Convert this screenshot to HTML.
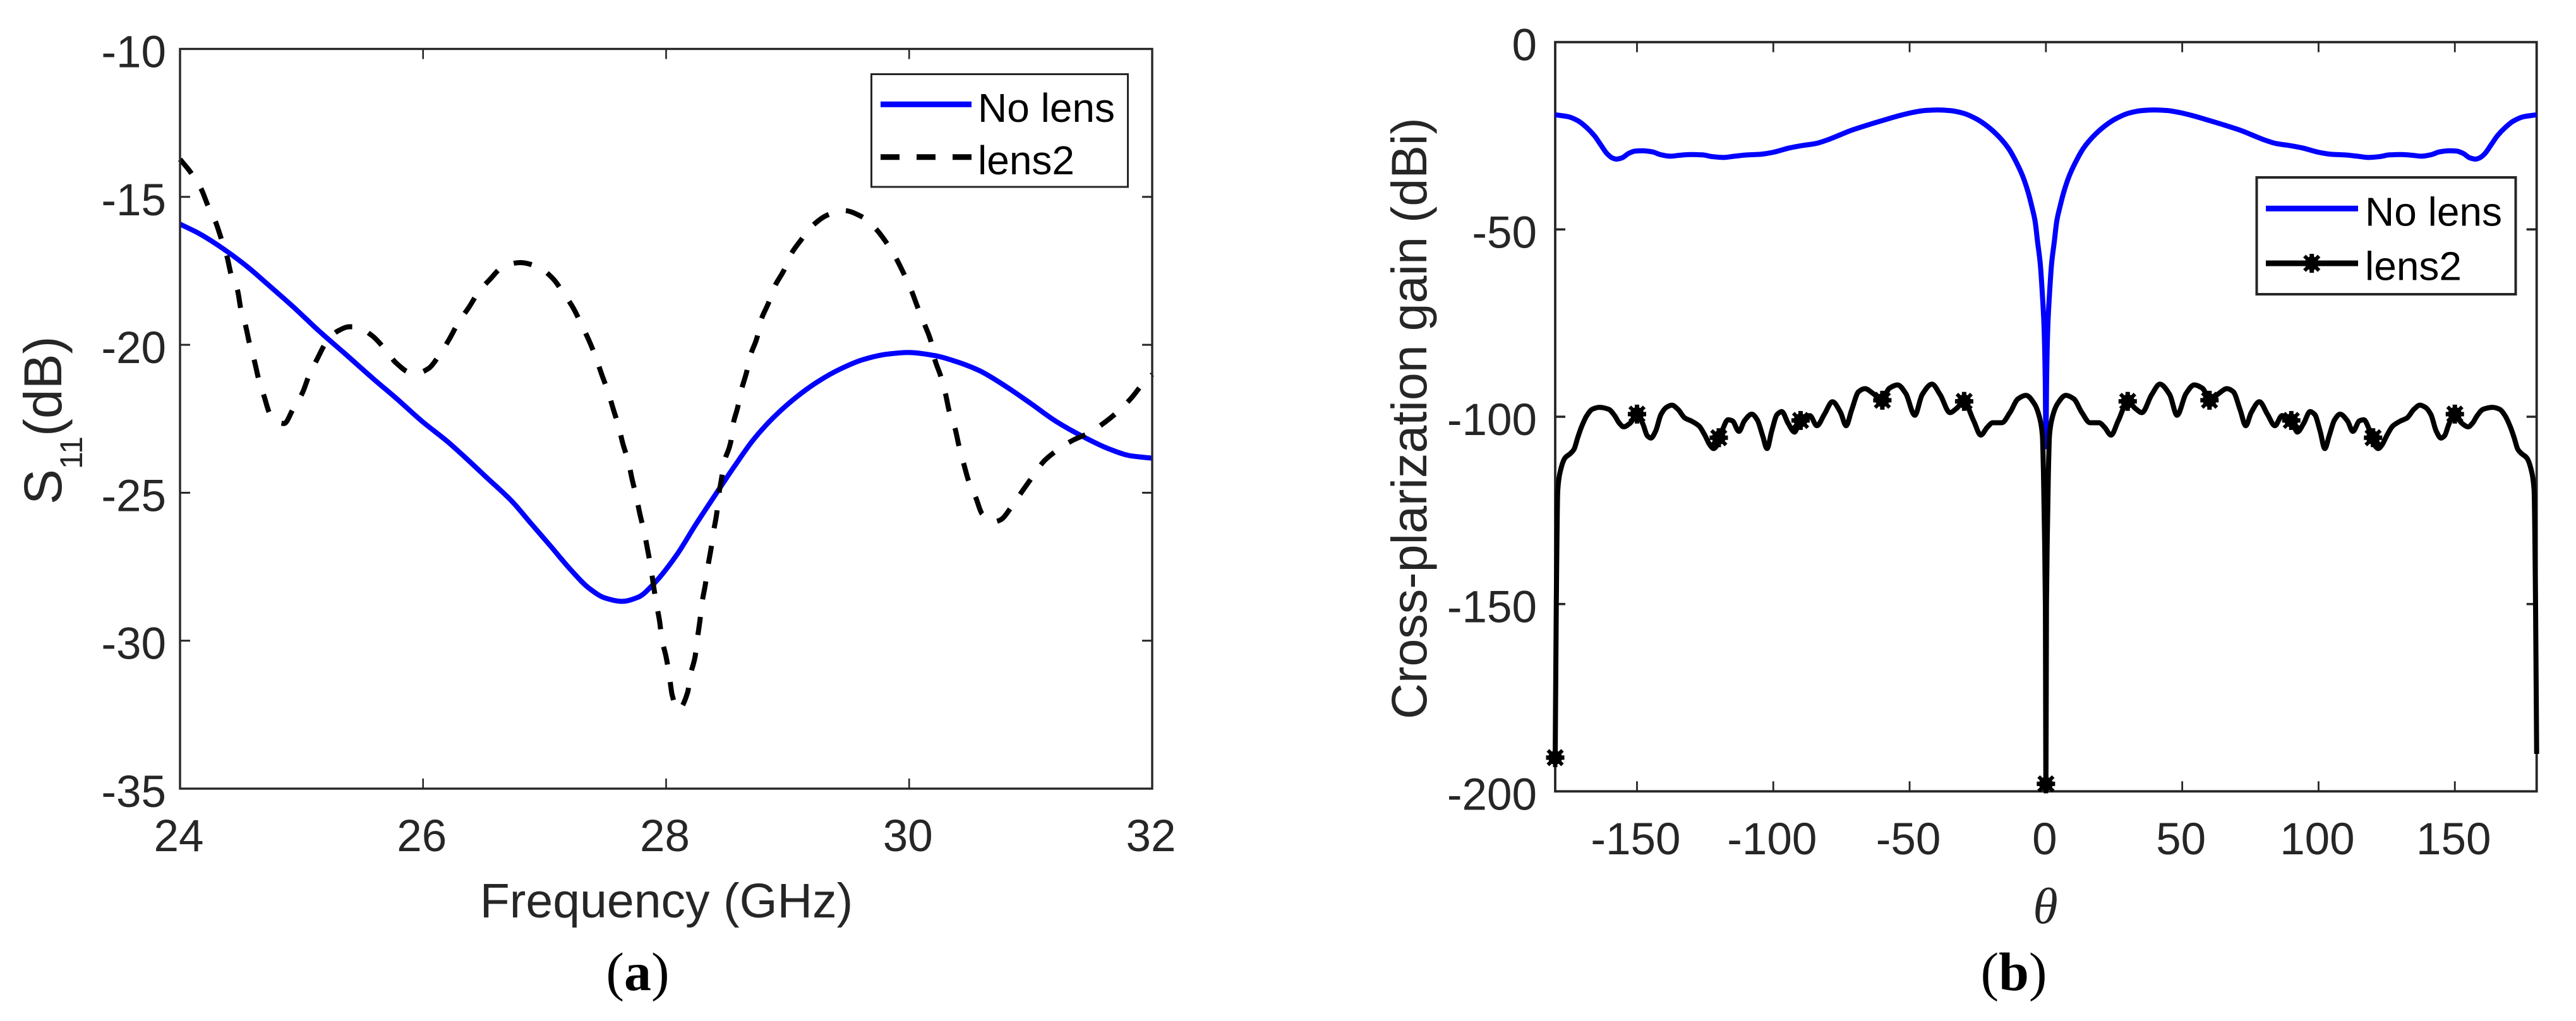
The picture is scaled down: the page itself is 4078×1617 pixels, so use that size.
<!DOCTYPE html>
<html lang="en">
<head>
<meta charset="utf-8">
<title>S11 and cross-polarization gain charts</title>
<style>
  html, body { margin: 0; padding: 0; background: #ffffff; }
  svg { display: block; }
  text { font-family: "Liberation Sans", Arial, sans-serif; }
  .serif { font-family: "Liberation Serif", "Times New Roman", serif; }
</style>
</head>
<body>
<svg id="figure" xmlns="http://www.w3.org/2000/svg" width="4078" height="1617" viewBox="0 0 4078 1617">
  <rect x="0" y="0" width="4078" height="1617" fill="#ffffff"/>

  <g id="chart-a"></g>
  <g id="chart-b"></g>

  <!-- Chart a labels -->
  <text transform="translate(97,799) rotate(-90)" font-size="84" fill="#262626">S<tspan font-size="50" dy="33">11</tspan><tspan dy="-33">(dB)</tspan></text>
  <text x="1055" y="1453" font-size="77" fill="#262626" text-anchor="middle">Frequency (GHz)</text>
  <text class="serif" x="1009.5" y="1568" font-size="86" fill="#000000" text-anchor="middle">(<tspan font-weight="bold">a</tspan>)</text>

  <!-- Chart a legend -->
  <g>
    <rect x="1379.5" y="117.5" width="406" height="178.5" fill="#ffffff" stroke="#262626" stroke-width="3"/>
    <line x1="1394" y1="165.3" x2="1538" y2="165.3" stroke="#0000ff" stroke-width="9"/>
    <text x="1548" y="193" font-size="64" fill="#000000">No lens</text>
    <line x1="1394" y1="248.7" x2="1538" y2="248.7" stroke="#000000" stroke-width="9" stroke-dasharray="30 27"/>
    <text x="1548" y="276" font-size="64" fill="#000000">lens2</text>
  </g>

  <!-- Chart b labels -->
  <text transform="translate(2258,1139) rotate(-90)" font-size="79" fill="#262626">Cross-plarization gain (dBi)</text>
  <text class="serif" x="3238" y="1462" font-size="80" font-style="italic" fill="#262626" text-anchor="middle">θ</text>
  <text class="serif" x="3188" y="1568" font-size="86" fill="#000000" text-anchor="middle">(<tspan font-weight="bold">b</tspan>)</text>

  <!-- Chart b legend -->
  <g>
    <rect x="3572.5" y="281" width="410" height="185" fill="#ffffff" stroke="#262626" stroke-width="4"/>
    <line x1="3587" y1="330.3" x2="3733" y2="330.3" stroke="#0000ff" stroke-width="9"/>
    <text x="3744" y="357.5" font-size="64" fill="#000000">No lens</text>
    <line x1="3587" y1="417" x2="3733" y2="417" stroke="#000000" stroke-width="9"/>
    <g id="legend-marker"></g>
    <text x="3744" y="443.5" font-size="64" fill="#000000">lens2</text>
  </g>
</svg>

<script>
// ---- Chart a data ----
const aXTicks = [24, 26, 28, 30, 32];
const aYTicks = [-10, -15, -20, -25, -30, -35];
const aNoLensFreq = [24,24.162,24.347,24.56,24.72,24.93,25.143,25.355,25.594,25.78,25.99,26.204,26.337,26.522,26.734,26.893,27.053,27.21,27.37,27.5,27.636,27.77,27.9,28.084,28.243,28.4,28.56,28.72,28.88,29.065,29.25,29.437,29.62,29.81,29.994,30.206,30.39,30.577,30.79,31,31.21,31.43,31.64,31.82,32];
const aNoLensS11 = [-15.92,-16.25,-16.73,-17.38,-17.95,-18.71,-19.53,-20.29,-21.16,-21.81,-22.58,-23.28,-23.77,-24.48,-25.3,-26.06,-26.82,-27.58,-28.24,-28.56,-28.67,-28.53,-28.07,-27.12,-26.08,-25.1,-24.12,-23.2,-22.47,-21.79,-21.24,-20.81,-20.5,-20.32,-20.26,-20.36,-20.57,-20.87,-21.39,-21.98,-22.59,-23.1,-23.51,-23.75,-23.83];
const aLens2Freq = [24,24.082,24.175,24.228,24.294,24.342,24.387,24.42,24.475,24.5,24.54,24.573,24.613,24.647,24.692,24.74,24.8,24.857,24.93,25.01,25.06,25.13,25.196,25.3,25.395,25.448,25.58,25.687,25.78,25.9,25.965,26.045,26.138,26.217,26.29,26.376,26.456,26.55,26.655,26.8,26.946,27.066,27.16,27.238,27.305,27.365,27.424,27.47,27.525,27.565,27.61,27.644,27.69,27.72,27.755,27.785,27.82,27.848,27.875,27.896,27.92,27.946,27.965,28,28.026,28.05,28.1,28.177,28.2,28.238,28.257,28.278,28.296,28.323,28.344,28.37,28.39,28.416,28.43,28.455,28.48,28.53,28.55,28.588,28.62,28.662,28.694,28.747,28.78,28.84,28.893,28.967,29.026,29.11,29.206,29.33,29.463,29.61,29.73,29.82,29.893,29.96,30.02,30.07,30.13,30.18,30.21,30.26,30.3,30.33,30.38,30.41,30.45,30.49,30.55,30.6,30.7,30.75,30.85,30.935,31.02,31.11,31.23,31.35,31.48,31.61,31.72,31.83,31.92,32];
const aLens2S11 = [-13.73,-14.14,-14.74,-15.28,-15.86,-16.45,-17.02,-17.62,-18.19,-18.79,-19.36,-19.98,-20.56,-21.16,-21.74,-22.34,-22.61,-22.66,-22.17,-21.6,-21.05,-20.47,-19.96,-19.53,-19.39,-19.39,-19.69,-20.15,-20.62,-20.94,-20.94,-20.8,-20.32,-19.8,-19.25,-18.74,-18.22,-17.79,-17.37,-17.22,-17.37,-17.75,-18.28,-18.77,-19.33,-19.85,-20.45,-21,-21.62,-22.17,-22.77,-23.34,-23.96,-24.54,-25.14,-25.73,-26.33,-26.93,-27.53,-28.13,-28.75,-29.33,-29.94,-30.55,-31.16,-31.84,-32.33,-31.75,-31.16,-30.55,-29.94,-29.33,-28.71,-28.1,-27.49,-26.88,-26.32,-25.71,-25.16,-24.55,-23.94,-23.32,-22.71,-22.13,-21.52,-20.93,-20.36,-19.77,-19.18,-18.61,-18.03,-17.5,-16.95,-16.46,-15.97,-15.61,-15.46,-15.67,-16.1,-16.59,-17.08,-17.63,-18.18,-18.73,-19.34,-19.89,-20.48,-21.06,-21.67,-22.25,-22.86,-23.42,-24.03,-24.61,-25.18,-25.71,-25.98,-25.92,-25.43,-24.92,-24.43,-23.93,-23.53,-23.22,-22.98,-22.62,-22.25,-21.79,-21.33,-21];

// ---- Chart b data ----
const bXTicks = [-150, -100, -50, 0, 50, 100, 150];
const bYTicks = [0, -50, -100, -150, -200];
const bNoLensTheta = [-180,-175.05,-171.5,-168.55,-165.6,-163.2,-160.86,-159.1,-157.55,-155.5,-153.2,-150.8,-148.1,-144.3,-141.35,-137.8,-134.3,-130.1,-126,-122.4,-118.3,-114.2,-109.4,-104.7,-100,-94.1,-89.3,-84.6,-80.5,-76.3,-71.6,-65.7,-59.8,-53.9,-49.1,-44.4,-39.7,-34.97,-30.2,-25.5,-21.4,-17.2,-13.7,-10.7,-8.4,-6.6,-5.2,-4,-3.05,-2.1,-1.3,-0.7,-0.25,0,
  0.25,0.7,1.3,2.1,3.05,4,5.2,6.6,8.4,10.7,13.7,17.2,21.4,25.5,30.2,34.97,39.7,44.4,49.1,53.9,59.8,65.7,71.6,76.3,80.5,84.6,89.3,94.1,100,104.7,109.4,114.2,118.3,122.4,126,130.1,134.3,137.8,141.35,144.3,148.1,150.8,153.2,155.5,157.55,159.1,160.86,163.2,165.6,168.55,171.5,175.05,180];
const bNoLensGain = [-19.4,-19.94,-21.06,-22.75,-25,-27.52,-29.88,-30.9,-31.23,-30.9,-29.77,-29.1,-29,-29.3,-30.05,-30.45,-30.2,-30,-30.1,-30.56,-30.78,-30.45,-30.1,-29.94,-29.4,-28.25,-27.6,-27.1,-26.2,-25,-23.6,-22.2,-20.9,-19.65,-18.8,-18.25,-18.1,-18.3,-19,-20.5,-22.5,-25.3,-28.4,-32.3,-36,-39.9,-43.8,-47.7,-53.4,-59,-67.4,-75.8,-90,-108,
  -90,-75.8,-67.4,-59,-53.4,-47.7,-43.8,-39.9,-36,-32.3,-28.4,-25.3,-22.5,-20.5,-19,-18.3,-18.1,-18.25,-18.8,-19.65,-20.9,-22.2,-23.6,-25,-26.2,-27.1,-27.6,-28.25,-29.4,-29.94,-30.1,-30.45,-30.78,-30.56,-30.1,-30,-30.2,-30.45,-30.05,-29.3,-29,-29.1,-29.77,-30.9,-31.23,-30.9,-29.88,-27.52,-25,-22.75,-21.06,-19.94,-19.4];
const bLens2Theta = [-180,-179.6,-179.07,-178.14,-176.4,-174.4,-173.1,-171.75,-170.4,-168.4,-166.4,-163.8,-160.4,-158.2,-156.5,-154.9,-152.5,-149.8,-147.8,-146.2,-144.9,-143.2,-141.2,-139.2,-137.2,-135,-132.5,-129.9,-127.2,-125.2,-123.2,-121.9,-120.6,-118.6,-116.6,-115,-112.6,-110.6,-107.9,-105.9,-103.9,-102.3,-100.6,-98.6,-96.9,-94.6,-92.2,-90,-86.6,-84,-81.3,-78.3,-75.3,-73.3,-71.3,-68.7,-66.4,-63.4,-60.3,-57.4,-54.4,-51.4,-48.1,-45.4,-41.8,-38.8,-35.2,-32.8,-30.1,-26.5,-23.9,-21.5,-19.5,-16.2,-13.2,-10.2,-7.3,-4.2,-2.2,-1.3,-0.9,-0.5,-0.2,0,
  0.2,0.5,0.9,1.3,2.2,4.2,7.3,10.2,13.2,16.2,19.5,21.5,23.9,26.5,30.1,32.8,35.2,38.8,41.8,45.4,48.1,51.4,54.4,57.4,60.3,63.4,66.4,68.7,71.3,73.3,75.3,78.3,81.3,84,86.6,90,92.2,94.6,96.9,98.6,100.6,102.3,103.9,105.9,107.9,110.6,112.6,115,116.6,118.6,120.6,121.9,123.2,125.2,127.2,129.9,132.5,135,137.2,139.2,141.2,143.2,144.9,146.2,147.8,149.8,152.5,154.9,156.5,158.2,160.4,163.8,166.4,168.4,170.4,171.75,173.1,174.4,176.4,178.14,179.07,179.6,180];
const bLens2Gain = [-191,-150,-119.7,-114.6,-111,-109.8,-108.7,-105.6,-102.8,-99.7,-98,-97.5,-98,-99.7,-101.7,-102.7,-101.7,-99.3,-102,-105.1,-105.7,-103.9,-99.4,-97.5,-96.9,-98,-100.3,-101.2,-102.5,-104.8,-107.6,-108.5,-107.6,-103.4,-100.8,-101.1,-103.9,-101.1,-99.3,-100.8,-105.1,-108.5,-103.9,-99.4,-98.6,-101.7,-104.1,-100.6,-99.7,-102.4,-99.4,-96,-98.9,-102.4,-98.3,-93.3,-92.5,-93.8,-95.5,-92.4,-91.5,-93.8,-99.6,-94.1,-91.3,-94.1,-98.9,-97.8,-95.95,-101.1,-104.9,-102.8,-101.6,-101.6,-98.9,-95.2,-94.3,-96.6,-100.6,-105,-115,-132,-150,-199,
  -150,-132,-115,-105,-100.6,-96.6,-94.3,-95.2,-98.9,-101.6,-101.6,-102.8,-104.9,-101.1,-95.95,-97.8,-98.9,-94.1,-91.3,-94.1,-99.6,-93.8,-91.5,-92.4,-95.5,-93.8,-92.5,-93.3,-98.3,-102.4,-98.9,-96,-99.4,-102.4,-99.7,-100.6,-104.1,-101.7,-98.6,-99.4,-103.9,-108.5,-105.1,-100.8,-99.3,-101.1,-103.9,-101.1,-100.8,-103.4,-107.6,-108.5,-107.6,-104.8,-102.5,-101.2,-100.3,-98,-96.9,-97.5,-99.4,-103.9,-105.7,-105.1,-102,-99.3,-101.7,-102.7,-101.7,-99.7,-98,-97.5,-98,-99.7,-102.8,-105.6,-108.7,-109.8,-111,-114.6,-119.7,-150,-190];
const bMarkerTheta = [-180,-150,-120,-90,-60,-30,0,30,60,90,120,150];
const bMarkerGain = [-191,-99.3,-105.6,-101,-95.6,-95.9,-198,-95.9,-95.6,-101,-105.6,-99.3];

// ---- Helpers ----
const SVG_NS = 'http://www.w3.org/2000/svg';
const INK = '#262626';

function el(tag, attrs, parent) {
  const node = document.createElementNS(SVG_NS, tag);
  for (const key in attrs) {
    node.setAttribute(key, attrs[key]);
  }
  parent.appendChild(node);
  return node;
}

function linear(d0, d1, r0, r1) {
  return function (v) { return r0 + (v - d0) * (r1 - r0) / (d1 - d0); };
}

// Monotone cubic interpolation in pixel space: never overshoots or loops.
function smoothPath(xs, ys, sx, sy) {
  const px = xs.map(sx);
  const py = ys.map(sy);
  const n = px.length;
  const h = [];
  const s = [];
  for (let i = 0; i < n - 1; i++) {
    h.push(px[i + 1] - px[i]);
    s.push((py[i + 1] - py[i]) / h[i]);
  }
  const m = [s[0]];
  for (let i = 1; i < n - 1; i++) {
    if (s[i - 1] * s[i] <= 0) {
      m.push(0);
    } else {
      const w1 = 2 * h[i] + h[i - 1];
      const w2 = h[i] + 2 * h[i - 1];
      m.push((w1 + w2) / (w1 / s[i - 1] + w2 / s[i]));
    }
  }
  m.push(s[n - 2]);
  let d = 'M' + px[0].toFixed(2) + ' ' + py[0].toFixed(2);
  for (let i = 0; i < n - 1; i++) {
    const c1x = px[i] + h[i] / 3;
    const c1y = py[i] + m[i] * h[i] / 3;
    const c2x = px[i + 1] - h[i] / 3;
    const c2y = py[i + 1] - m[i + 1] * h[i] / 3;
    d += 'C' + c1x.toFixed(2) + ' ' + c1y.toFixed(2) + ' ' + c2x.toFixed(2) + ' ' + c2y.toFixed(2) + ' ' + px[i + 1].toFixed(2) + ' ' + py[i + 1].toFixed(2);
  }
  return d;
}

function drawMarker(cx, cy, parent) {
  const g = el('g', { fill: '#000000', stroke: '#000000' }, parent);
  el('circle', { cx: cx, cy: cy, r: 11, 'stroke-width': 0 }, g);
  el('line', { x1: cx, y1: cy - 15, x2: cx, y2: cy + 15, 'stroke-width': 7 }, g);
  el('line', { x1: cx - 14.5, y1: cy, x2: cx + 14.5, y2: cy, 'stroke-width': 7 }, g);
  el('line', { x1: cx - 11.5, y1: cy - 11.5, x2: cx + 11.5, y2: cy + 11.5, 'stroke-width': 6 }, g);
  el('line', { x1: cx - 11.5, y1: cy + 11.5, x2: cx + 11.5, y2: cy - 11.5, 'stroke-width': 6 }, g);
  return g;
}

// ---- Chart a ----
const chartA = document.getElementById('chart-a');
const ax = { left: 285, right: 1824, top: 77.5, bottom: 1249 };
const xA = linear(24, 32, ax.left, ax.right);
const yA = linear(-10, -35, ax.top, ax.bottom);

aXTicks.forEach(function (t) {
  const x = xA(t);
  if (t !== 24 && t !== 32) {
    const tb = el('line', { x1: x, y1: ax.bottom, x2: x, y2: ax.bottom - 16, stroke: INK, 'stroke-width': 2.6 }, chartA);
    
    
    const tt = el('line', { x1: x, y1: ax.top, x2: x, y2: ax.top + 16, stroke: INK, 'stroke-width': 2.6 }, chartA);
    
    
  }
  const label = el('text', { x: x - 2, y: 1348, 'font-size': 71, fill: INK, 'text-anchor': 'middle' }, chartA);
  label.textContent = String(t);
  
  
});

aYTicks.forEach(function (t) {
  const y = yA(t);
  if (t !== -10 && t !== -35) {
    const tl = el('line', { x1: ax.left, y1: y, x2: ax.left + 16, y2: y, stroke: INK, 'stroke-width': 3 }, chartA);
    
    
    const tr = el('line', { x1: ax.right, y1: y, x2: ax.right - 16, y2: y, stroke: INK, 'stroke-width': 3 }, chartA);
    
    
  }
  const label = el('text', { x: 263, y: y + 29, 'font-size': 71, fill: INK, 'text-anchor': 'end' }, chartA);
  label.textContent = String(t);
  
  
});

const aNoLensLine = el('path', { d: smoothPath(aNoLensFreq, aNoLensS11, xA, yA), fill: 'none', stroke: '#0000ff', 'stroke-width': 8, 'stroke-linejoin': 'round' }, chartA);



const aLens2Line = el('path', { d: smoothPath(aLens2Freq, aLens2S11, xA, yA), fill: 'none', stroke: '#000000', 'stroke-width': 8, 'stroke-dasharray': '29 28' }, chartA);



const aFrame = el('rect', { x: ax.left, y: ax.top, width: ax.right - ax.left, height: ax.bottom - ax.top, fill: 'none', stroke: INK, 'stroke-width': 3.4 }, chartA);



// ---- Chart b ----
const chartB = document.getElementById('chart-b');
const bx = { left: 2462, right: 4015.7, top: 66.7, bottom: 1253.3 };
const xB = linear(-180, 180, bx.left, bx.right);
const yB = linear(0, -200, bx.top, bx.bottom);

bXTicks.forEach(function (t) {
  const x = xB(t);
  const tb = el('line', { x1: x, y1: bx.bottom, x2: x, y2: bx.bottom - 16, stroke: INK, 'stroke-width': 2.8 }, chartB);
  
  
  const tt = el('line', { x1: x, y1: bx.top, x2: x, y2: bx.top + 16, stroke: INK, 'stroke-width': 2.8 }, chartB);
  
  
  const label = el('text', { x: x - 2, y: 1353, 'font-size': 71, fill: INK, 'text-anchor': 'middle' }, chartB);
  label.textContent = String(t);
  
  
});

bYTicks.forEach(function (t) {
  const y = yB(t);
  if (t !== 0 && t !== -200) {
    const tl = el('line', { x1: bx.left, y1: y, x2: bx.left + 16, y2: y, stroke: INK, 'stroke-width': 3.6 }, chartB);
    
    
    const tr = el('line', { x1: bx.right, y1: y, x2: bx.right - 16, y2: y, stroke: INK, 'stroke-width': 3.6 }, chartB);
    
    
  }
  const label = el('text', { x: 2433, y: y + 29, 'font-size': 71, fill: INK, 'text-anchor': 'end' }, chartB);
  label.textContent = String(t);
  
  
});

const bFrame = el('rect', { x: bx.left, y: bx.top, width: bx.right - bx.left, height: bx.bottom - bx.top, fill: 'none', stroke: INK, 'stroke-width': 3.8 }, chartB);



const bNoLensLine = el('path', { d: smoothPath(bNoLensTheta, bNoLensGain, xB, yB), fill: 'none', stroke: '#0000ff', 'stroke-width': 8, 'stroke-linejoin': 'round' }, chartB);



const bLens2Line = el('path', { d: smoothPath(bLens2Theta, bLens2Gain, xB, yB), fill: 'none', stroke: '#000000', 'stroke-width': 8, 'stroke-linejoin': 'round' }, chartB);



bMarkerTheta.forEach(function (t, i) {
  const m = drawMarker(xB(t), yB(bMarkerGain[i]), chartB);
  
  
});

drawMarker(3659.7, 417, document.getElementById('legend-marker'));
</script>
</body>
</html>
